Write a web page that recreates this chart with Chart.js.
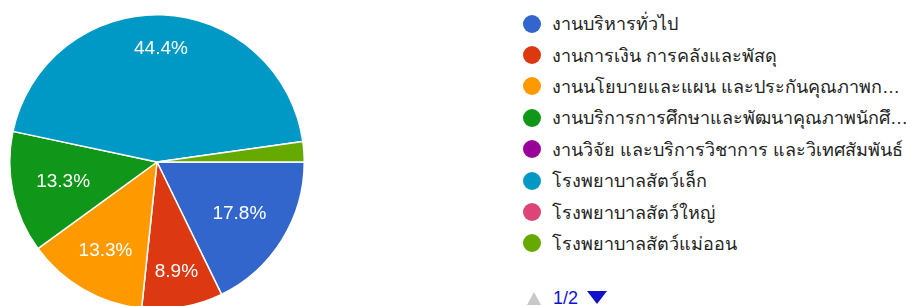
<!DOCTYPE html>
<html>
<head>
<meta charset="utf-8">
<script src="https://cdn.jsdelivr.net/npm/chart.js@4.4.1/dist/chart.umd.min.js"></script>
<style>
  html, body { margin: 0; padding: 0; background: #fff; overflow: hidden; }
  body { width: 906px; height: 306px; position: relative; }
  #wrap { position: absolute; left: 9px; top: 14px; width: 296px; height: 296px; }
  #leyenda { position: absolute; left: 523px; top: 8px; font-family: Arial, "Liberation Sans", sans-serif; font-size: 18px; color: #222; }
  .item { height: 31.4px; display: flex; align-items: center; white-space: nowrap; }
  .punto { width: 18px; height: 18px; border-radius: 50%; margin-right: 11px; flex: none; }
  .arriba { position: absolute; left: 527px; top: 292px; width: 0; height: 0;
    border-left: 7px solid transparent; border-right: 7px solid transparent; border-bottom: 13px solid #c8c8c8; }
  .abajo { position: absolute; left: 587px; top: 291px; width: 0; height: 0;
    border-left: 10px solid transparent; border-right: 10px solid transparent; border-top: 13px solid #1111cc; }
  #pagina { position: absolute; left: 553px; top: 289px; font-family: Arial, sans-serif; font-size: 18px; line-height: 18px; color: #1111cc; }
</style>
</head>
<body>
<div id="wrap"><canvas id="grafico" width="296" height="296"></canvas></div>
<div id="leyenda"></div>
<div class="arriba"></div>
<div id="pagina">1/2</div>
<div class="abajo"></div>
<script>
// DATOS
const categorias = [
  "งานบริหารทั่วไป",
  "งานการเงิน การคลังและพัสดุ",
  "งานนโยบายและแผน และประกันคุณภาพก…",
  "งานบริการการศึกษาและพัฒนาคุณภาพนักศึ…",
  "งานวิจัย และบริการวิชาการ และวิเทศสัมพันธ์",
  "โรงพยาบาลสัตว์เล็ก",
  "โรงพยาบาลสัตว์ใหญ่",
  "โรงพยาบาลสัตว์แม่ออน"
];
const respuestas = [8, 4, 6, 6, 0, 20, 0, 1];
const colores = ["#3366cc", "#dc3912", "#ff9900", "#109618", "#990099", "#0099c6", "#dd4477", "#66aa00"];

//ETIQUETAS DE PORCENTAJE DENTRO DE LA TORTA
const etiquetas = {
  id: "etiquetas",
  afterDatasetsDraw(chart) {
    const ctx = chart.ctx;
    const meta = chart.getDatasetMeta(0);
    const total = respuestas.reduce((a, b) => a + b, 0);
    ctx.save();
    ctx.font = "19px Arial, 'Liberation Sans', sans-serif";
    ctx.fillStyle = "#fff";
    ctx.textAlign = "center";
    ctx.textBaseline = "middle";
    meta.data.forEach((arc, i) => {
      const pct = respuestas[i] / total * 100;
      if (pct < 5) return;
      const texto = pct.toFixed(1) + "%";
      const { x, y, startAngle, endAngle, outerRadius } = arc.getProps(["x", "y", "startAngle", "endAngle", "outerRadius"]);
      const a = (startAngle + endAngle) / 2;
      const w = ctx.measureText(texto).width;
      const h = 13;
      const c = Math.abs(Math.cos(a)), s = Math.abs(Math.sin(a));
      const R = outerRadius * 0.84;
      const b = c * w / 2 + s * h / 2;
      const k = (w * w + h * h) / 4 - R * R;
      const d = -b + Math.sqrt(b * b - k);
      ctx.fillText(texto, x + d * Math.cos(a), y + d * Math.sin(a));
    });
    ctx.restore();
  }
};

const grafico = new Chart(document.getElementById("grafico"), {
  type: "pie",
  data: {
    labels: categorias,
    datasets: [{
      data: respuestas,
      backgroundColor: colores,
      borderColor: "#fff",
      borderWidth: 1.5,
    }],
  },
  options: {
    responsive: false,
    animation: false,
    devicePixelRatio: 1,
    rotation: 90,
    layout: { padding: 0 },
    plugins: {
      legend: { display: false },
      tooltip: { enabled: false },
    },
  },
  plugins: [etiquetas],
});

//LEYENDA HTML
const leyenda = document.getElementById("leyenda");
categorias.forEach((nombre, i) => {
  const fila = document.createElement("div");
  fila.className = "item";
  fila.innerHTML = `<span class="punto" style="background:${colores[i]}"></span><span>${nombre}</span>`;
  leyenda.appendChild(fila);
});
</script>
</body>
</html>
